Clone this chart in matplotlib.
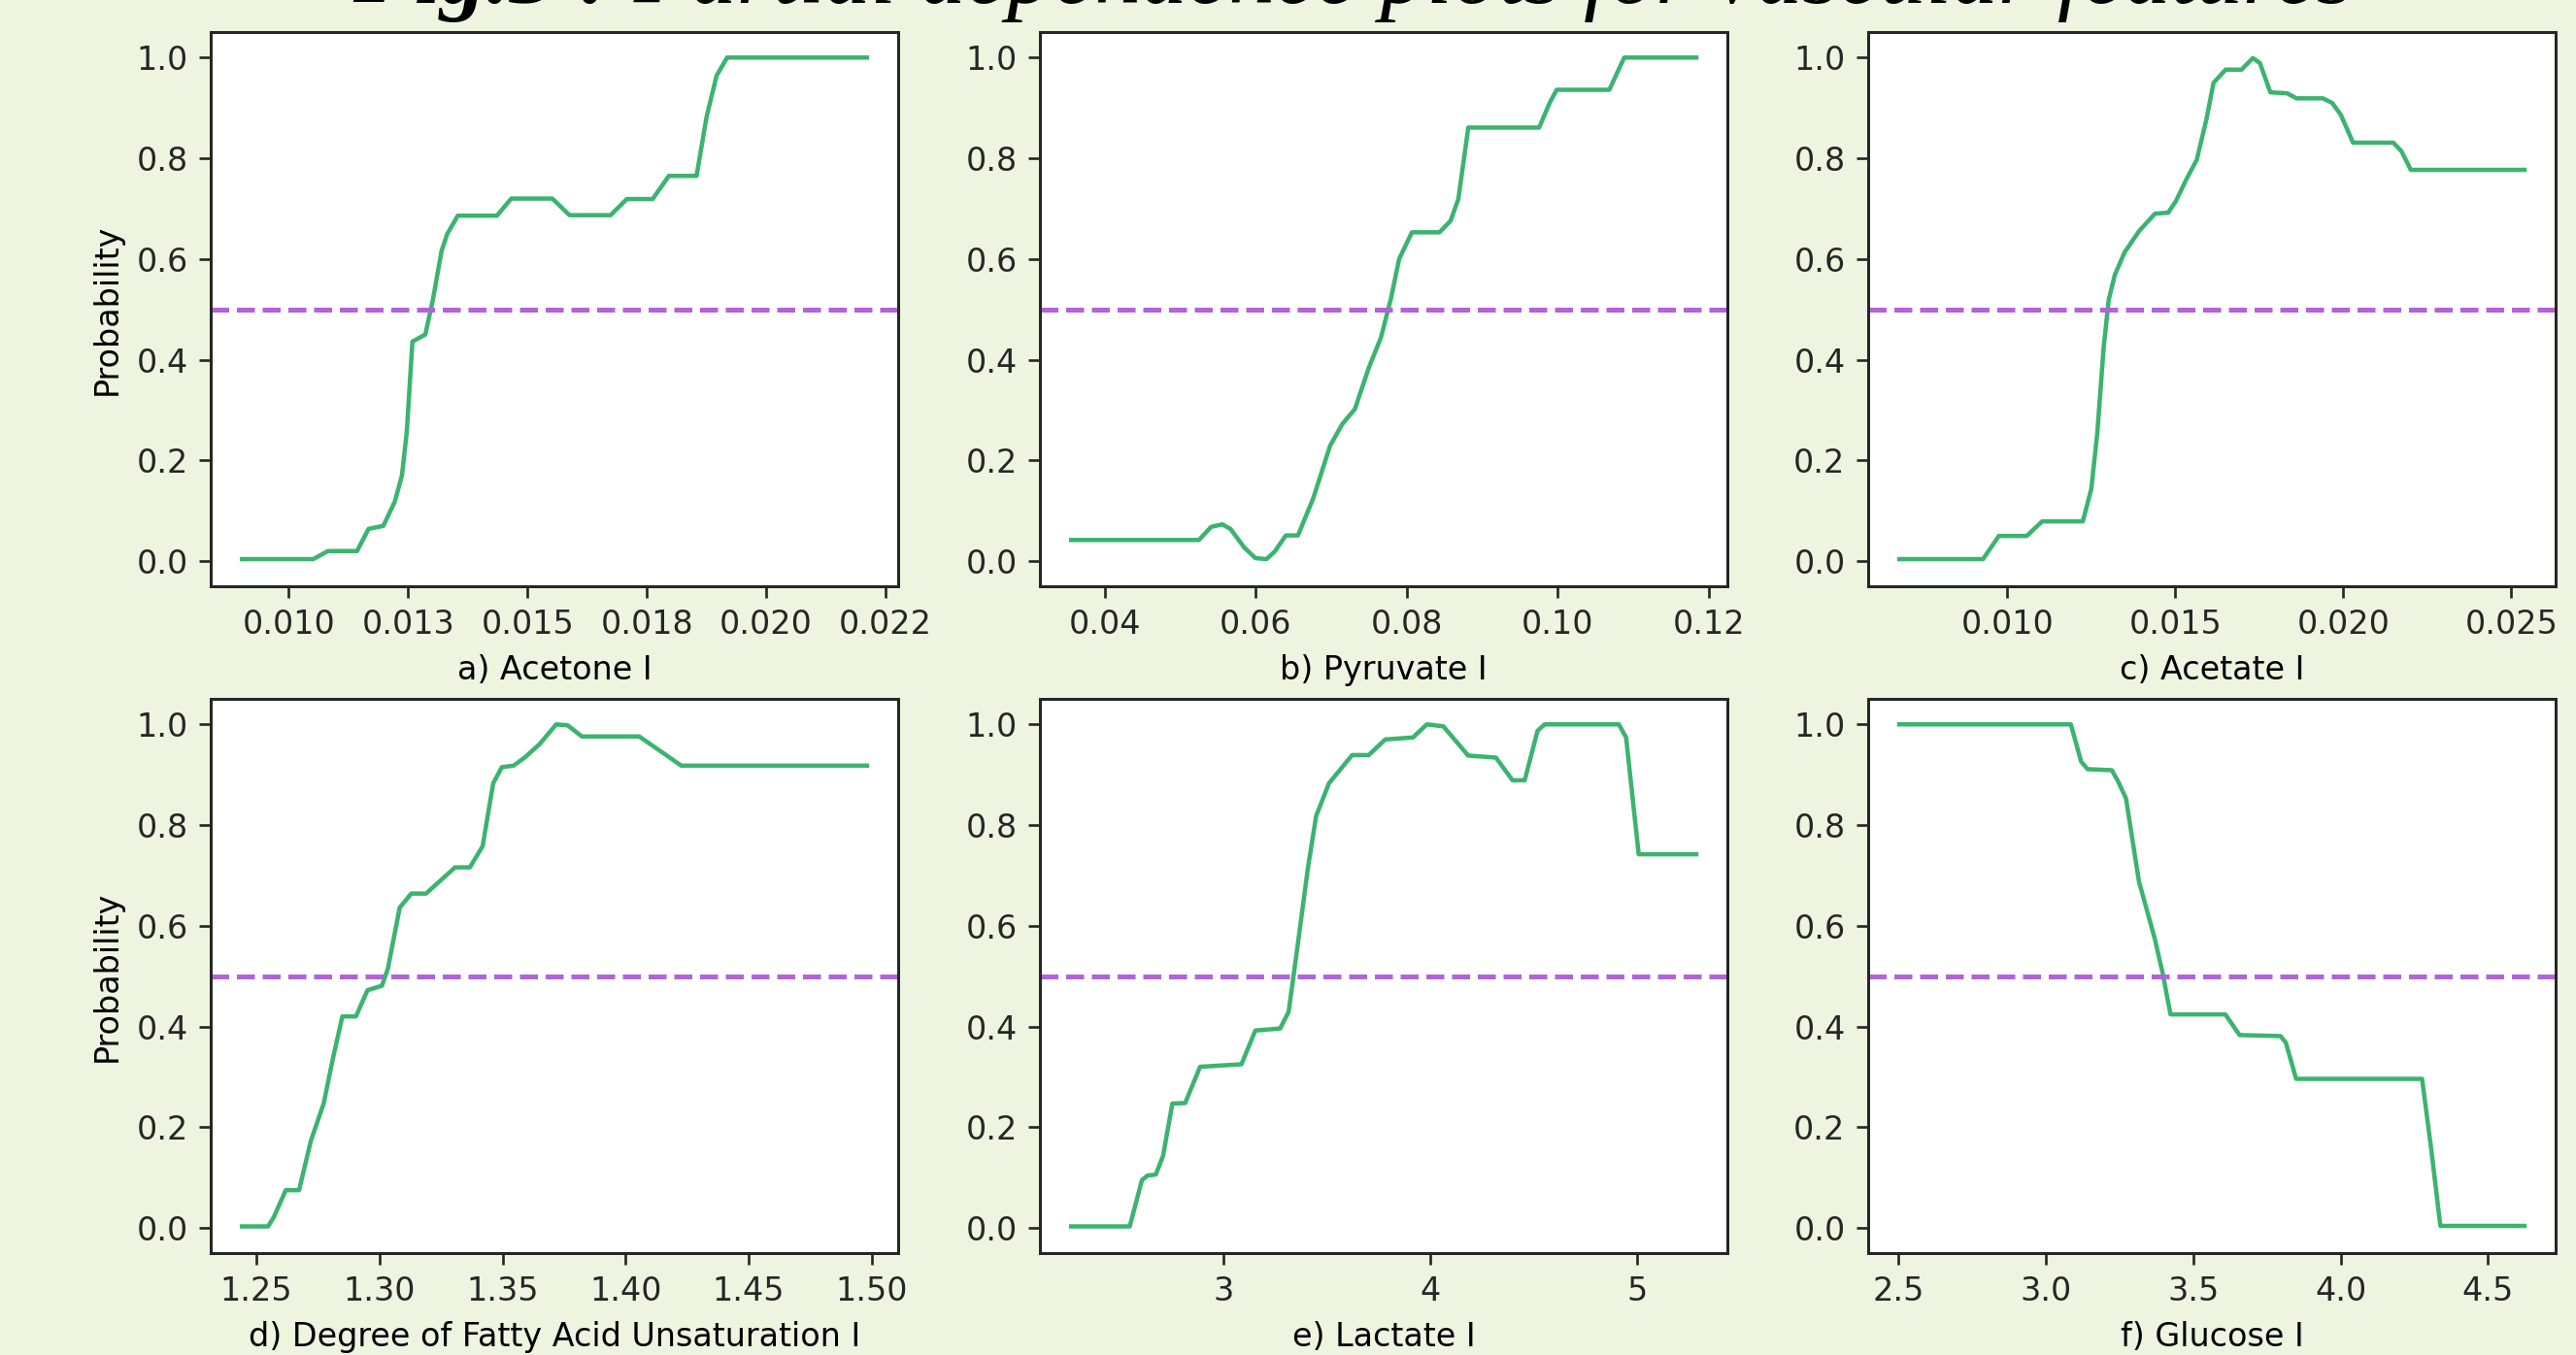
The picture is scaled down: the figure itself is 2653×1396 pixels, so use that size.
import matplotlib.pyplot as plt

# curve nodes
acetone_x = [0.00902, 0.01051, 0.01082, 0.01143, 0.01167, 0.01198, 0.01222, 0.01237,
             0.01247, 0.01259, 0.01286, 0.01302, 0.0132, 0.01332, 0.01354, 0.01436,
             0.01466, 0.01552, 0.01588, 0.01674, 0.01708, 0.01762, 0.01796, 0.01854,
             0.01875, 0.01896, 0.01918, 0.02211]
acetone_y = [0.004, 0.004, 0.02, 0.02, 0.064, 0.07, 0.118, 0.17,
             0.255, 0.436, 0.45, 0.52, 0.616, 0.65, 0.686, 0.686,
             0.72, 0.72, 0.687, 0.687, 0.719, 0.719, 0.765, 0.765,
             0.882, 0.964, 1.0, 1.0]

pyruvate_x = [0.03553, 0.05245, 0.05407, 0.05553, 0.05663, 0.05846, 0.05993, 0.06139,
              0.06249, 0.06396, 0.06557, 0.06762, 0.06982, 0.07143, 0.07311, 0.07495,
              0.07656, 0.07788, 0.07897, 0.08066, 0.08432, 0.08579, 0.08681, 0.08813,
              0.09751, 0.09897, 0.09985, 0.10681, 0.10879, 0.11832]
pyruvate_y = [0.042, 0.042, 0.068, 0.073, 0.064, 0.027, 0.006, 0.004,
              0.019, 0.051, 0.051, 0.126, 0.229, 0.272, 0.302, 0.384,
              0.444, 0.521, 0.6, 0.653, 0.653, 0.676, 0.719, 0.861,
              0.861, 0.912, 0.936, 0.936, 1.0, 1.0]

acetate_x = [0.00679, 0.00928, 0.00975, 0.01058, 0.01104, 0.01225, 0.0125, 0.01268,
             0.01287, 0.01302, 0.0132, 0.01349, 0.01393, 0.0144, 0.01479, 0.01502,
             0.01533, 0.01564, 0.01593, 0.01614, 0.0165, 0.01697, 0.01731, 0.01752,
             0.01783, 0.01833, 0.01861, 0.01939, 0.01967, 0.01993, 0.02029, 0.02149,
             0.02173, 0.02201, 0.02539]
acetate_y = [0.004, 0.004, 0.05, 0.05, 0.079, 0.079, 0.143, 0.254,
             0.425, 0.519, 0.568, 0.613, 0.656, 0.69, 0.692, 0.715,
             0.758, 0.797, 0.878, 0.95, 0.976, 0.976, 0.999, 0.989,
             0.931, 0.929, 0.919, 0.919, 0.91, 0.886, 0.831, 0.831,
             0.814, 0.777, 0.777]

fatty_x = [1.2441, 1.2547, 1.2571, 1.2619, 1.2673, 1.2721, 1.2773, 1.2809,
           1.2849, 1.2904, 1.2951, 1.301, 1.3034, 1.3082, 1.3129, 1.3189,
           1.3307, 1.3367, 1.3419, 1.3462, 1.3497, 1.3545, 1.3592, 1.3651,
           1.3718, 1.3765, 1.3822, 1.4055, 1.415, 1.4226, 1.4981]
fatty_y = [0.003, 0.003, 0.022, 0.075, 0.075, 0.173, 0.247, 0.333,
           0.42, 0.42, 0.472, 0.481, 0.515, 0.636, 0.664, 0.664,
           0.716, 0.716, 0.758, 0.883, 0.915, 0.918, 0.935, 0.961,
           1.0, 0.998, 0.976, 0.976, 0.944, 0.918, 0.918]

lactate_x = [2.265, 2.548, 2.607, 2.634, 2.674, 2.709, 2.754, 2.816,
             2.888, 3.088, 3.155, 3.275, 3.316, 3.356, 3.409, 3.449,
             3.511, 3.623, 3.703, 3.783, 3.917, 3.984, 4.064, 4.184,
             4.318, 4.398, 4.457, 4.519, 4.553, 4.912, 4.947, 5.008, 5.286]
lactate_y = [0.003, 0.003, 0.095, 0.104, 0.106, 0.143, 0.247, 0.248,
             0.32, 0.325, 0.392, 0.396, 0.429, 0.55, 0.714, 0.818,
             0.883, 0.939, 0.939, 0.97, 0.974, 1.0, 0.996, 0.938,
             0.934, 0.889, 0.889, 0.987, 1.0, 1.0, 0.974, 0.742, 0.742]

glucose_x = [2.5036, 3.085, 3.12, 3.142, 3.224, 3.245, 3.272, 3.316,
             3.369, 3.396, 3.423, 3.609, 3.657, 3.796, 3.814, 3.849,
             4.276, 4.308, 4.338, 4.623]
glucose_y = [1.0, 1.0, 0.926, 0.911, 0.909, 0.887, 0.853, 0.688,
             0.576, 0.507, 0.424, 0.424, 0.383, 0.381, 0.368, 0.296,
             0.296, 0.152, 0.004, 0.004]

panel_titles = ["a) Acetone I", "b) Pyruvate I", "c) Acetate I",
                "d) Degree of Fatty Acid Unsaturation I", "e) Lactate I", "f) Glucose I"]

acetone_ticks = [0.010, 0.0125, 0.015, 0.0175, 0.020, 0.0225]
acetone_labels = ["0.010", "0.013", "0.015", "0.018", "0.020", "0.022"]
pyruvate_ticks = [0.04, 0.06, 0.08, 0.10, 0.12]
pyruvate_labels = ["0.04", "0.06", "0.08", "0.10", "0.12"]
acetate_ticks = [0.010, 0.015, 0.020, 0.025]
acetate_labels = ["0.010", "0.015", "0.020", "0.025"]
fatty_ticks = [1.25, 1.30, 1.35, 1.40, 1.45, 1.50]
fatty_labels = ["1.25", "1.30", "1.35", "1.40", "1.45", "1.50"]
lactate_ticks = [3, 4, 5]
lactate_labels = ["3", "4", "5"]
glucose_ticks = [2.5, 3.0, 3.5, 4.0, 4.5]
glucose_labels = ["2.5", "3.0", "3.5", "4.0", "4.5"]

prob_ticks = [0.0, 0.2, 0.4, 0.6, 0.8, 1.0]
prob_labels = ["0.0", "0.2", "0.4", "0.6", "0.8", "1.0"]
threshold = 0.5

series = [
    (acetone_x, acetone_y, acetone_ticks, acetone_labels),
    (pyruvate_x, pyruvate_y, pyruvate_ticks, pyruvate_labels),
    (acetate_x, acetate_y, acetate_ticks, acetate_labels),
    (fatty_x, fatty_y, fatty_ticks, fatty_labels),
    (lactate_x, lactate_y, lactate_ticks, lactate_labels),
    (glucose_x, glucose_y, glucose_ticks, glucose_labels),
]

BG = "#edf5e1"
GREEN = "#3cb371"
PURPLE = "#b163da"

fig = plt.figure(figsize=(2653 / 240, 1396 / 240), dpi=240, facecolor=BG)

lefts = [0.0818, 0.4037, 0.7252]
bottoms = [0.5673, 0.0752]
w, h = 0.2669, 0.4088

for i, (x, y, ticks, labels) in enumerate(series):
    row, col = divmod(i, 3)
    ax = fig.add_axes([lefts[col], bottoms[row], w, h])
    ax.plot(x, y, color=GREEN, lw=1.35)
    ax.axhline(threshold, color=PURPLE, lw=1.5, ls="--")
    ax.set_ylim(-0.05, 1.05)
    ax.set_xticks(ticks)
    ax.set_xticklabels(labels)
    ax.set_yticks(prob_ticks)
    ax.set_yticklabels(prob_labels)
    ax.set_xlabel(panel_titles[i], fontsize=10)
    if col == 0:
        ax.set_ylabel("Probability", fontsize=10)
    for s in ax.spines.values():
        s.set_color("#262626")
        s.set_linewidth(0.9)
    ax.tick_params(colors="#262626", labelsize=10)

# title sits partly above the image edge, as in the original
t1 = fig.text(0.137, 0.998, "Fig.3 :", fontsize=28.6, family="Liberation Serif",
              style="italic", weight="bold", va="baseline", ha="left")
fig.canvas.draw()
bb = t1.get_window_extent()
fig.text(bb.x1 / fig.bbox.width, 0.998, " Partial dependence plots for vascular features",
         fontsize=28.6, family="Liberation Serif", style="italic",
         va="baseline", ha="left")

fig.savefig("out.png", dpi=240, facecolor=BG)
